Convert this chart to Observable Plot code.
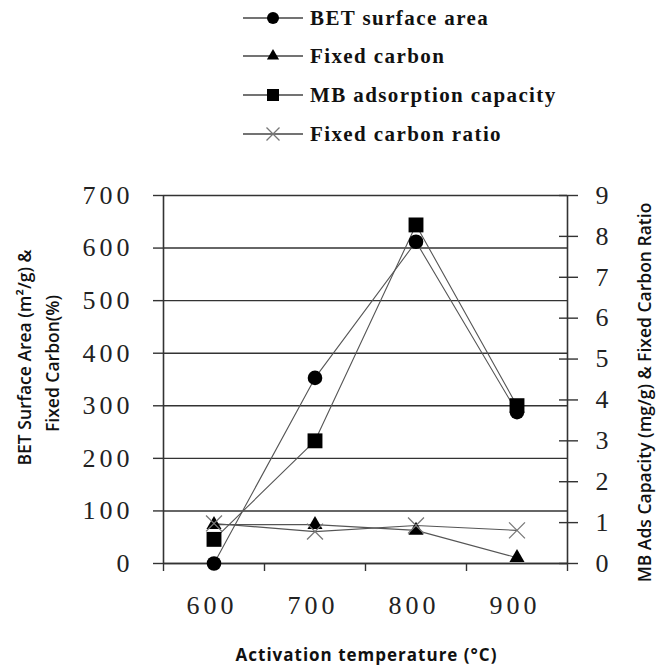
<!DOCTYPE html>
<html><head><meta charset="utf-8">
<script src="https://cdn.jsdelivr.net/npm/d3@7"></script>
<script src="https://cdn.jsdelivr.net/npm/@observablehq/plot@0.6"></script>
<style>
body{margin:0;background:#fff;}
#wrap{position:relative;width:658px;height:667px;overflow:hidden;}
#legend{position:absolute;left:243px;top:0;}
.row{position:absolute;left:0;height:24px;display:flex;align-items:center;white-space:nowrap;}
.row span{font-family:"Liberation Serif";font-weight:bold;font-size:21px;letter-spacing:1.4px;margin-left:7px;color:#111}
#chart{position:absolute;left:0;top:0;}
</style></head><body><div id="wrap"><div id="chart"></div><div id="legend"></div></div>
<script>
const temps = [600, 700, 800, 900];
const betArea = [0, 353, 612, 288];          // m2/g, left axis
const fixedCarbon = [74, 74, 63, 11];        // %, left axis
const mbCapacity = [0.59, 3.0, 8.28, 3.86];  // mg/g, right axis
const fcRatio = [0.98, 0.78, 0.93, 0.81];    // ratio, right axis
const leftTicks = [0, 100, 200, 300, 400, 500, 600, 700];
const rightTicks = [0, 1, 2, 3, 4, 5, 6, 7, 8, 9];
const xEdges = [550, 650, 750, 850, 950];
const seriesNames = ["BET surface area", "Fixed carbon", "MB adsorption capacity", "Fixed carbon ratio"];
const symbols = ["circle", "triangle", "square", "times"];

const k = 700 / 9; // right axis -> left axis units

const rows = [];
temps.forEach((t, i) => {
  rows.push({t, v: betArea[i], series: seriesNames[0]});
  rows.push({t, v: fixedCarbon[i], series: seriesNames[1]});
  rows.push({t, v: mbCapacity[i] * k, series: seriesNames[2]});
  rows.push({t, v: fcRatio[i] * k, series: seriesNames[3]});
});
const bySeries = s => rows.filter(d => d.series === s);

const serif = "Liberation Serif";
const sans = "Open Sans";

const chart = Plot.plot({
  width: 658,
  height: 667,
  marginTop: 195,
  marginBottom: 104,
  marginLeft: 163,
  marginRight: 91,
  style: {fontFamily: serif, fontSize: "26px", background: "white", color: "#222", overflow: "visible"},
  x: {domain: [550, 950]},
  y: {domain: [0, 700]},
  marks: [
    Plot.gridY(leftTicks, {stroke: "#333", strokeOpacity: 1, strokeWidth: 1.4}),
    Plot.ruleX([550, 950], {stroke: "#333", strokeWidth: 1.6}),
    Plot.ruleY([0], {stroke: "#333", strokeWidth: 1.6}),
    Plot.axisY({ticks: leftTicks, anchor: "left", tickSize: 10, tickPadding: 20, label: null, stroke: "#333", strokeWidth: 1.4, fontSize: 26}),
    Plot.axisY({ticks: rightTicks.map(d => d * k), tickFormat: d => String(Math.round(d / k)), anchor: "right", tickSize: 19, dx: -9, tickPadding: 18, label: null, stroke: "#333", strokeWidth: 1.4, fontSize: 26}),
    Plot.axisX({ticks: xEdges, tickFormat: () => "", tickSize: 8, label: null, stroke: "#333", strokeWidth: 1.4}),
    Plot.axisX({ticks: temps, tickSize: 0, tickPadding: 32, dx: -2, label: null, fontSize: 26}),
    Plot.line(rows, {x: "t", y: "v", z: "series", stroke: "#555", strokeWidth: 1.1}),
    Plot.dot(bySeries(seriesNames[0]), {x: "t", y: "v", symbol: "circle", r: 7.3, fill: "#000", stroke: "none"}),
    Plot.dot(bySeries(seriesNames[1]), {x: "t", y: "v", symbol: "triangle", r: 5.6, fill: "#000", stroke: "none"}),
    Plot.dot(bySeries(seriesNames[2]), {x: "t", y: "v", symbol: "square", r: 8.4, fill: "#000", stroke: "none"}),
    Plot.dot(bySeries(seriesNames[3]), {x: "t", y: "v", symbol: "times", r: 7.3, stroke: "#777", strokeWidth: 1.3}),
    Plot.text(["BET Surface Area (m²/g) &"], {frameAnchor: "left", textAnchor: "middle", rotate: -90, dx: -138, dy: -22, fontFamily: sans, fontWeight: 600, fontSize: 17.5, fill: "#111"}),
    Plot.text(["Fixed Carbon(%)"], {frameAnchor: "left", textAnchor: "middle", rotate: -90, dx: -110, dy: -16, fontFamily: sans, fontWeight: 600, fontSize: 17.5, fill: "#111"}),
    Plot.text(["MB Ads Capacity (mg/g) & Fixed Carbon Ratio"], {frameAnchor: "right", textAnchor: "middle", rotate: -90, dx: 78, dy: 13, fontFamily: sans, fontWeight: 600, fontSize: 17.5, fill: "#111"}),
    Plot.text(["Activation temperature (°C)"], {frameAnchor: "bottom", dx: 1, dy: 97, fontFamily: sans, fontWeight: 700, fontSize: 17, fill: "#111"})
  ]
});
// typographic spacing to match the wide glyphs of the original
d3.select(chart).selectAll("text").each(function() {
  const t = this.textContent.trim();
  if (/^\d+$/.test(t)) this.style.letterSpacing = "4px";
  if (t.startsWith("Activation")) this.style.letterSpacing = "1px";
});
document.getElementById("chart").appendChild(chart);

// legend
const legend = document.getElementById("legend");
const rowY = [6, 44, 83, 122];
const symSize = {circle: Math.PI * 6 * 6, triangle: 64, square: 144, times: 112};
const symType = {circle: d3.symbolCircle, triangle: d3.symbolTriangle, square: d3.symbolSquare, times: d3.symbolTimes};
seriesNames.forEach((name, i) => {
  const row = document.createElement("div");
  row.className = "row";
  row.style.top = rowY[i] + "px";
  const s = symbols[i];
  const path = d3.symbol(symType[s], symSize[s])();
  const fill = s === "times" ? "none" : "#000";
  const stroke = s === "times" ? "#777" : "none";
  row.innerHTML = `<svg width="60" height="24"><line x1="0" x2="60" y1="12" y2="12" stroke="#444" stroke-width="1.3"/><path transform="translate(30,12)" d="${path}" fill="${fill}" stroke="${stroke}" stroke-width="1.3"/></svg><span>${name}</span>`;
  legend.appendChild(row);
});
</script>
</body></html>
